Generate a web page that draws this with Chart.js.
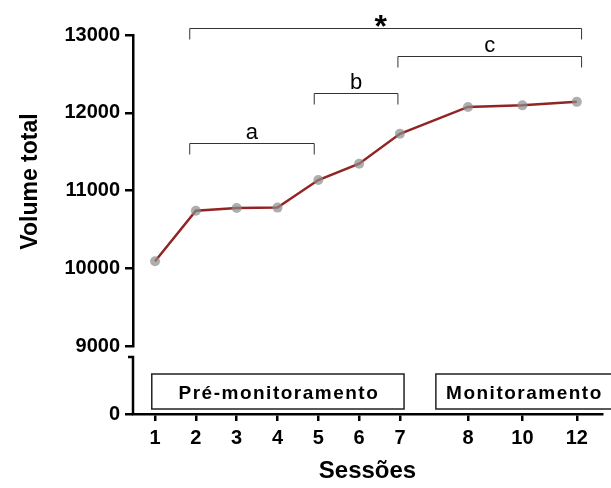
<!DOCTYPE html>
<html>
<head>
<meta charset="utf-8">
<script src="https://cdn.jsdelivr.net/npm/chart.js@4/dist/chart.umd.min.js"></script>
<style>
  body { margin: 0; background: #fff; }
  #wrap { width: 611px; height: 488px; }
</style>
</head>
<body>
<div id="wrap"><canvas id="chart"></canvas></div>
<script>
// Sessions and their slot along the x axis (there is a wider gap before session 8)
const sessions = ['1', '2', '3', '4', '5', '6', '7', '8', '10', '12'];
const sessionSlot = [1, 2, 3, 4, 5, 6, 7, 8.667, 10, 11.333];
const volumeTotal = [10090, 10740, 10775, 10780, 11135, 11345, 11730, 12075, 12095, 12140];

const upperTicks = [9000, 10000, 11000, 12000, 13000];
const lowerTicks = [0];

// Significance brackets (from/to in slot units, level in volume units)
const bracketLabels = ['a', 'b', 'c', '*'];
const bracketFrom = [1.85, 4.9, 6.95, 1.85];
const bracketTo = [4.9, 6.95, 11.45, 11.45];
const bracketLevel = [11615, 12260, 12735, 13095];

// Phase boxes sitting on the x axis
const phaseLabels = ['Pré-monitoramento', 'Monitoramento'];
const phaseFrom = [0.92, 7.88];
const phaseTo = [7.1, 12.5];

const FONT = '"Liberation Sans", Arial, sans-serif';

const annotations = {
  id: 'annotations',
  afterDraw(chart) {
    const ctx = chart.ctx;
    const x = chart.scales.x;
    const yHigh = chart.scales.yHigh;
    const yLow = chart.scales.yLow;
    ctx.save();

    // lower piece of the broken y axis
    const axisX = yLow.right;
    const bottom = yLow.getPixelForValue(0);
    const top = yHigh.bottom + 11;
    ctx.strokeStyle = '#000';
    ctx.lineWidth = 2.5;
    ctx.beginPath();
    ctx.moveTo(axisX - 5, top);
    ctx.lineTo(axisX, top);
    ctx.lineTo(axisX, bottom);
    ctx.stroke();

    // brackets
    ctx.lineWidth = 1;
    ctx.strokeStyle = '#333';
    ctx.fillStyle = '#000';
    ctx.textAlign = 'center';
    ctx.textBaseline = 'alphabetic';
    bracketLabels.forEach((label, i) => {
      const x0 = x.getPixelForValue(bracketFrom[i]);
      const x1 = x.getPixelForValue(bracketTo[i]);
      const yy = Math.round(yHigh.getPixelForValue(bracketLevel[i])) + 0.5;
      ctx.beginPath();
      ctx.moveTo(x0, yy + 11);
      ctx.lineTo(x0, yy);
      ctx.lineTo(x1, yy);
      ctx.lineTo(x1, yy + 11);
      ctx.stroke();
      if (label === '*') {
        ctx.font = 'bold 32px ' + FONT;
        ctx.fillText(label, (x0 + x1) / 2 - 5, yy + 8);
      } else {
        ctx.font = '22px ' + FONT;
        ctx.fillText(label, (x0 + x1) / 2, yy - 5);
      }
    });

    // phase boxes
    const axisY = x.top;
    ctx.lineWidth = 1.5;
    ctx.strokeStyle = '#222';
    ctx.font = 'bold 19px ' + FONT;
    ctx.letterSpacing = '1.5px';
    phaseLabels.forEach((label, i) => {
      const x0 = x.getPixelForValue(phaseFrom[i]);
      const x1 = x.getPixelForValue(phaseTo[i]);
      ctx.strokeRect(x0, axisY - 40, x1 - x0, 35);
      const visibleRight = Math.min(x1, chart.width);
      ctx.fillText(label, (x0 + visibleRight) / 2 + 1, axisY - 15);
    });
    ctx.letterSpacing = '0px';

    // y axis title
    ctx.font = 'bold 23px ' + FONT;
    ctx.translate(37, (yHigh.top + yHigh.bottom) / 2 - 9);
    ctx.rotate(-Math.PI / 2);
    ctx.fillText('Volume total', 0, 0);

    ctx.restore();
  }
};

const axisGrid = {
  display: true,
  drawOnChartArea: false,
  drawTicks: true,
  color: '#000',
  lineWidth: 2.5,
};

new Chart(document.getElementById('chart'), {
  type: 'line',
  data: {
    datasets: [{
      data: sessionSlot.map((s, i) => ({ x: s, y: volumeTotal[i] })),
      yAxisID: 'yHigh',
      borderColor: '#922424',
      borderWidth: 2.5,
      pointRadius: 5,
      pointBackgroundColor: 'rgba(140, 140, 140, 0.7)',
      pointBorderWidth: 0,
      tension: 0,
    }]
  },
  options: {
    responsive: true,
    maintainAspectRatio: false,
    animation: false,
    layout: { padding: { top: 35, right: 9, left: 0, bottom: 0 } },
    plugins: {
      legend: { display: false },
      tooltip: { enabled: false },
    },
    scales: {
      x: {
        type: 'linear',
        position: 'bottom',
        min: 0.46,
        max: 11.95,
        afterBuildTicks: (scale) => { scale.ticks = sessionSlot.map(v => ({ value: v })); },
        afterFit: (scale) => { scale.height = 74; },
        grid: { ...axisGrid, tickLength: 7 },
        border: { display: true, color: '#000', width: 2.5 },
        ticks: {
          autoSkip: false,
          maxRotation: 0,
          padding: 5,
          color: '#000',
          font: { family: FONT, size: 20, weight: 'bold' },
          callback: (value, index) => sessions[index],
        },
        title: {
          display: true,
          text: 'Sessões',
          color: '#000',
          font: { family: FONT, size: 24, weight: 'bold' },
          padding: { top: 0, bottom: 2 },
        },
      },
      // left boxes are stacked in reverse order, so the lower piece comes first
      yLow: {
        type: 'linear',
        position: 'left',
        stack: 'left',
        stackWeight: 68,
        min: 0,
        max: 1000,
        afterBuildTicks: (scale) => { scale.ticks = lowerTicks.map(v => ({ value: v })); },
        afterFit: (scale) => { scale.width = 133; },
        grid: { ...axisGrid, tickLength: 8 },
        border: { display: false },
        ticks: {
          padding: 5,
          color: '#000',
          font: { family: FONT, size: 20, weight: 'bold' },
          callback: (value) => String(value),
        },
      },
      yHigh: {
        type: 'linear',
        position: 'left',
        stack: 'left',
        stackWeight: 311,
        min: 9000,
        max: 13000,
        afterBuildTicks: (scale) => { scale.ticks = upperTicks.map(v => ({ value: v })); },
        afterFit: (scale) => { scale.width = 133; },
        grid: { ...axisGrid, tickLength: 8 },
        border: { display: true, color: '#000', width: 2.5 },
        ticks: {
          padding: 5,
          color: '#000',
          font: { family: FONT, size: 20, weight: 'bold' },
          callback: (value) => String(value),
        },
      },
    },
  },
  plugins: [annotations],
});
</script>
</body>
</html>
